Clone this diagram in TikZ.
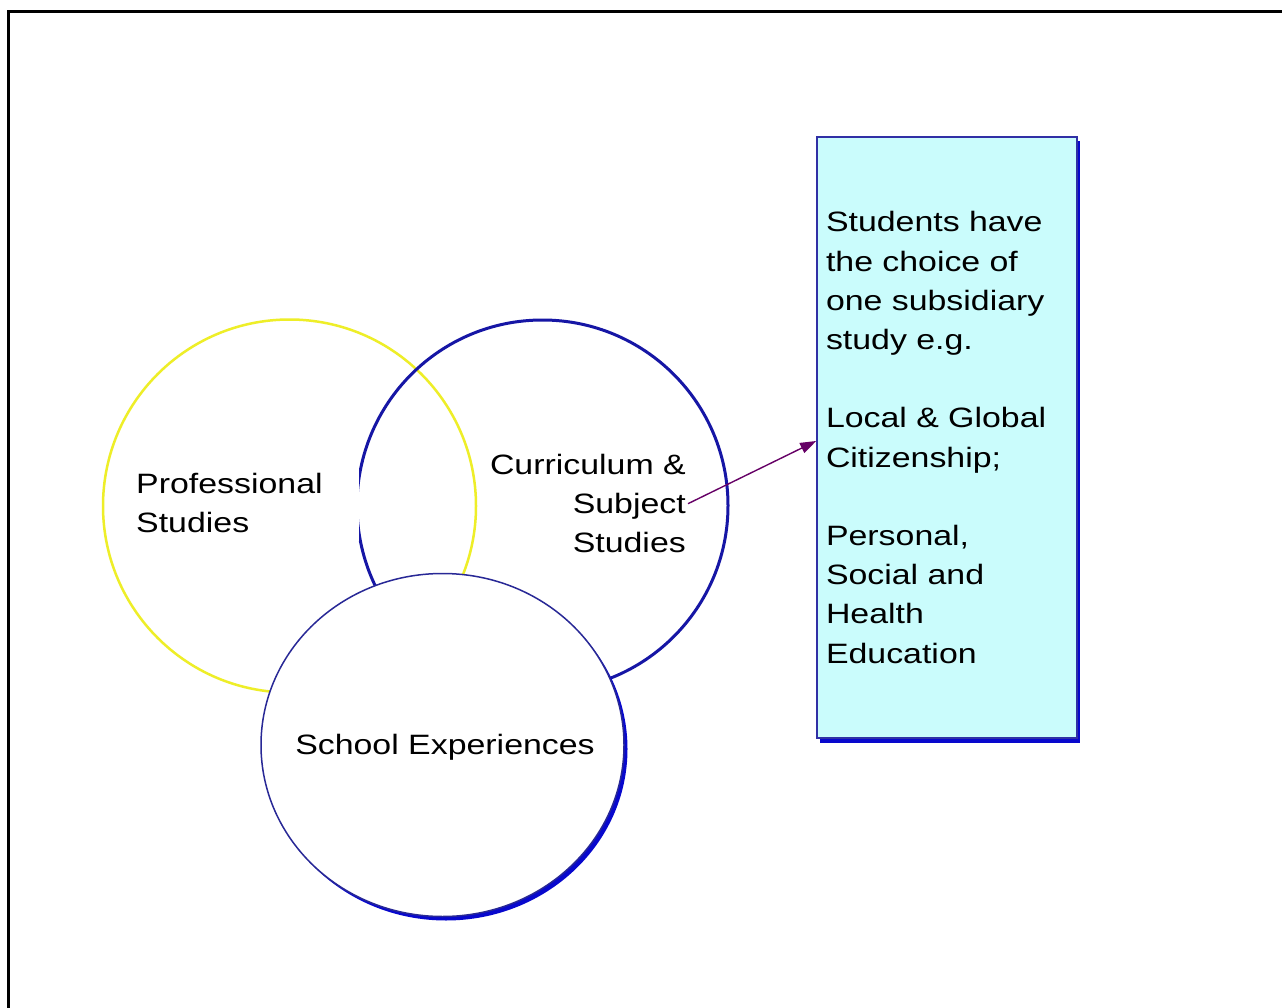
\documentclass[tikz,border=0pt]{standalone}
\usepackage{fontspec}
\usetikzlibrary{arrows.meta}
\newfontfamily\lbl[FakeStretch=1.21]{Liberation Sans}
\definecolor{ycirc}{RGB}{238,238,40}
\definecolor{bcirc}{RGB}{22,22,165}
\definecolor{scirc}{RGB}{40,40,150}
\definecolor{shadowblue}{RGB}{8,8,205}
\definecolor{boxfill}{RGB}{202,252,252}
\definecolor{boxline}{RGB}{48,48,165}
\definecolor{arrowcol}{RGB}{102,0,102}
\tikzset{
  lbltext/.style={font=\lbl\fontsize{28}{39.2}\selectfont, inner sep=0pt},
  infobox/.style={draw=boxline, line width=1.6pt, fill=boxfill, minimum width=260pt, minimum height=601pt, text width=242pt, inner xsep=9pt, align=left, font=\lbl\fontsize{28}{39.2}\selectfont},
  link/.style={draw=arrowcol, line width=1.4pt, -{Triangle[length=16pt,width=11pt]}}
}
\begin{document}
\begin{tikzpicture}[x=1pt,y=-1pt]
\useasboundingbox (0,0) rectangle (1282,1008);
\fill[white] (0,0) rectangle (1282,1008);
% frame
\draw[line width=3pt] (8,1008) -- (8,12) -- (1282,12);
% circles
\draw[ycirc, line width=2.5pt] (289.5,506) circle[radius=186.5];
\draw[bcirc, line width=3pt] (542.5,505.5) circle[radius=185.5];
% professional studies label (white background cuts the blue circle)
\node[lbltext, fill=white, anchor=north west, text width=215pt, inner xsep=8pt, inner ysep=8pt, align=left] (prof) at (128,465) {Professional\\Studies};
% school experiences circle with shadow
\fill[shadowblue] (446,749) ellipse[x radius=181.5, y radius=171.5];
\draw[scirc, line width=1.5pt, fill=white] (442.5,745) ellipse[x radius=181.5, y radius=171.5];
\node[lbltext, anchor=base] (school) at (445,754) {School Experiences};
% curriculum label
\node[lbltext, anchor=north east, align=right] (curr) at (686,454) {Curriculum \&\\Subject\\Studies};
% info box with shadow
\fill[shadowblue] (820,141) rectangle (1080,742.5);
\node[infobox] (box) at (947,437.5) {Students have\\the choice of\\one subsidiary\\study e.g.\\[39.2pt]Local \& Global\\Citizenship;\\[39.2pt]Personal,\\Social and\\Health\\Education};
% arrow
\draw[link] ([xshift=2pt]curr.east) -- ([yshift=-3.5pt]box.west);
\end{tikzpicture}
\end{document}
